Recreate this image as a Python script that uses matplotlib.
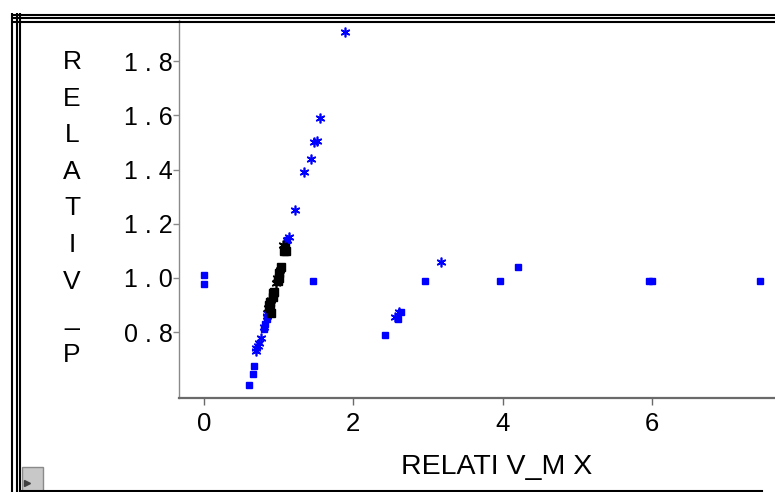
import matplotlib.pyplot as plt
from matplotlib.patches import Rectangle
from matplotlib import font_manager

# blue squares
sq_x = [0.0, 0.0, 1.46, 2.96, 3.97, 4.21, 5.96, 6.0, 7.45, 2.43, 2.60, 2.64,
        0.60, 0.65, 0.67, 0.80, 0.82, 0.85, 0.87, 1.11]
sq_y = [1.01, 0.978, 0.989, 0.99, 0.99, 1.04, 0.99, 0.99, 0.99, 0.79, 0.85, 0.875,
        0.605, 0.645, 0.675, 0.81, 0.83, 0.85, 0.87, 1.14]

# blue asterisks
st_x = [1.89, 1.555, 1.48, 1.51, 1.43, 1.34, 1.22, 1.11, 1.14, 3.18, 2.61, 2.56,
        0.84, 0.80, 0.76, 0.74, 0.70, 0.72, 0.69, 0.85]
st_y = [1.907, 1.59, 1.50, 1.505, 1.44, 1.39, 1.25, 1.14, 1.15, 1.06, 0.875, 0.855,
        0.87, 0.82, 0.78, 0.76, 0.74, 0.75, 0.73, 0.86]

# black squares / asterisks
bk_x = [1.07, 1.09, 1.10, 1.03, 1.00, 0.99, 1.01, 0.93, 0.92, 0.94, 0.87, 0.90, 0.88, 0.89]
bk_y = [1.10, 1.11, 1.10, 1.04, 1.02, 0.99, 1.00, 0.945, 0.93, 0.95, 0.90, 0.87, 0.89, 0.91]
bs_x = [1.06, 0.98, 0.96, 0.90, 0.86, 1.02]
bs_y = [1.12, 1.00, 0.98, 0.92, 0.89, 1.03]

xticks = [0, 2, 4, 6]
yticks = [0.8, 1.0, 1.2, 1.4, 1.6, 1.8]
ylabel = "RELATIV_P"
xlabel = "RELATI V_M X"

W, H = 775, 492
fig = plt.figure(figsize=(W / 100, H / 100), dpi=100)

names = {f.name for f in font_manager.fontManager.ttflist}
sans = "Liberation Sans" if "Liberation Sans" in names else "DejaVu Sans"

# plot area in pixels
L, B, R, T = 179, 398, 775, 20
ax = fig.add_axes([L / W, 1 - B / H, (R - L) / W, (B - T) / H])
ax.set_xlim(-0.335, 7.65)
ax.set_ylim(0.557, 1.952)

ax.plot(sq_x, sq_y, ls="none", marker="s", ms=5, color="#0000ff", mec="#0000ff")
ax.plot(st_x, st_y, ls="none", marker=(6, 2, 0), ms=7, mew=1.2, color="#0000ff")
ax.plot(bk_x, bk_y, ls="none", marker="s", ms=5.5, color="black")
ax.plot(bs_x, bs_y, ls="none", marker=(6, 2, 0), ms=7, mew=1.2, color="black")

for s in ["top", "right"]:
    ax.spines[s].set_visible(False)
ax.spines["left"].set_color("#8a8a8a")
ax.spines["left"].set_linewidth(1.0)
ax.spines["bottom"].set_color("#6a6a6a")
ax.spines["bottom"].set_linewidth(1.6)

ax.set_xticks(xticks)
ax.set_xticklabels([str(v) for v in xticks], fontsize=18.5, family=sans)
ax.set_yticks(yticks)
ax.set_yticklabels([" ".join(f"{v:.1f}") for v in yticks], fontsize=18, family=sans)
ax.tick_params(axis="y", length=4.5, width=1, color="#8a8a8a", pad=0)
ax.tick_params(axis="x", length=5, width=1, color="#6a6a6a", pad=5)

# stacked y label letters
for i, ch in enumerate(ylabel):
    fig.text(72 / W, 1 - (62 + 36.6 * i) / H, ch, ha="center", va="center",
             fontsize=19, family=sans)

fig.text(497 / W, 1 - 467 / H, xlabel, ha="center", va="center",
         fontsize=20.5, family=sans)

# window frame
fax = fig.add_axes([0, 0, 1, 1], zorder=5)
fax.set_xlim(0, W)
fax.set_ylim(H, 0)
fax.axis("off")
fax.patch.set_alpha(0)
for yy in [14.5, 18.3, 21.7]:
    fax.plot([11, W], [yy, yy], color="black", lw=1.5, solid_capstyle="butt")
for xx in [12, 16.5, 20]:
    fax.plot([xx, xx], [13, H], color="black", lw=1.5, solid_capstyle="butt")
fax.plot([20, 762], [490.5, 490.5], color="black", lw=1.5)
fax.add_patch(Rectangle((42, 12), 3.5, 12, color="white"))
fax.add_patch(Rectangle((757, 12), 4, 12, color="white"))
fax.add_patch(Rectangle((10, 47), 11, 3, color="white"))
fax.add_patch(Rectangle((22, 467), 21, 25, facecolor="#c8c8c8", edgecolor="#8a8a8a", lw=1))
fax.plot([27], [483], marker=">", ms=4, color="#404040")

fig.savefig("out.png", dpi=100)
